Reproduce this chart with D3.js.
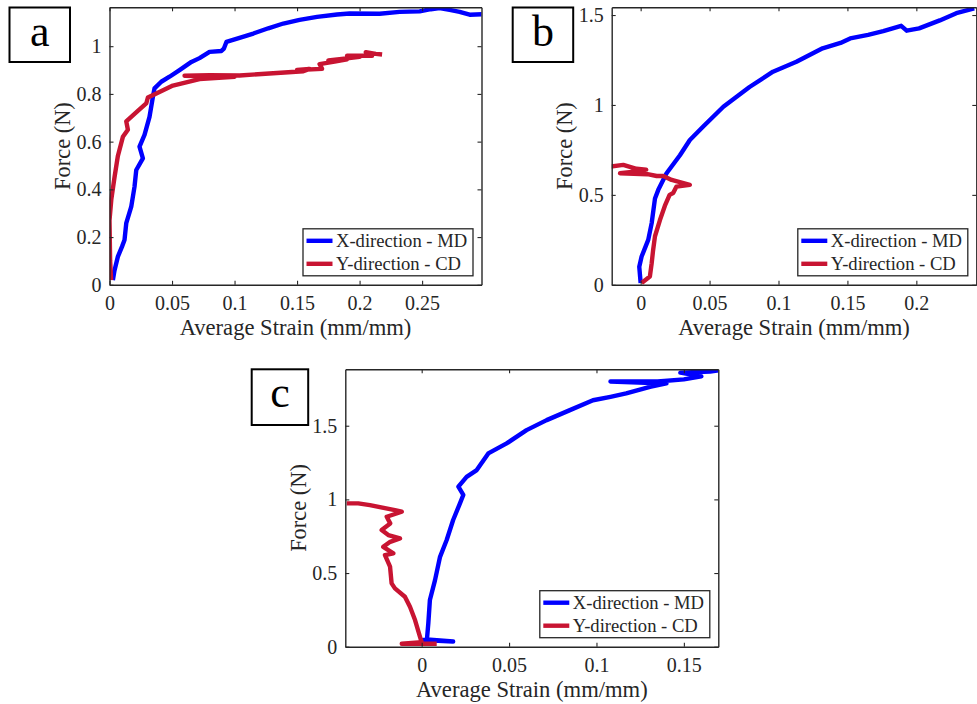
<!DOCTYPE html>
<html>
<head>
<meta charset="utf-8">
<script src="https://cdn.jsdelivr.net/npm/d3@7"></script>
<style>
  html, body { margin: 0; padding: 0; background: #fff; }
  svg { display: block; }
</style>
</head>
<body>
<svg id="chart" width="977" height="704"></svg>
<script>
// ---------------- DATA ----------------
const seriesNames = ["X-direction - MD", "Y-direction - CD"];
const panelLetters = ["a", "b", "c"];

// Panel a: [strain, force]
const aMD = [[0.0027,0.02],[0.0040,0.06],[0.0067,0.118],[0.0100,0.16],[0.012,0.188],[0.0134,0.258],
  [0.0174,0.328],[0.020,0.411],[0.0214,0.481],[0.0267,0.530],[0.024,0.579],[0.028,0.628],[0.032,0.704],
  [0.0347,0.788],[0.036,0.823],[0.0414,0.851],[0.048,0.872],[0.056,0.90],[0.0655,0.934],[0.072,0.950],
  [0.080,0.976],[0.0895,0.980],[0.0915,0.990],[0.0935,1.018],[0.104,1.035],[0.115,1.053],[0.127,1.075],
  [0.139,1.095],[0.152,1.110],[0.166,1.123],[0.182,1.133],[0.192,1.137],[0.216,1.136],[0.232,1.144],
  [0.248,1.146],[0.257,1.155],[0.264,1.160],[0.272,1.152],[0.280,1.144],[0.288,1.132],[0.298,1.134]];
const aCD = [[0.0013,0.02],[0.0005,0.10],[0.0,0.27],[0.0015,0.36],[0.004,0.45],[0.0067,0.54],[0.0107,0.62],
  [0.0147,0.65],[0.0134,0.685],[0.0187,0.71],[0.024,0.735],[0.0294,0.76],[0.0307,0.785],[0.0387,0.805],
  [0.0507,0.835],[0.072,0.862],[0.100,0.872],[0.080,0.874],[0.060,0.876],[0.080,0.878],[0.104,0.877],
  [0.140,0.890],[0.155,0.895],[0.160,0.905],[0.150,0.900],[0.170,0.905],[0.168,0.925],[0.180,0.935],
  [0.190,0.945],[0.175,0.940],[0.200,0.955],[0.190,0.960],[0.210,0.960],[0.205,0.975],[0.213,0.968],
  [0.218,0.965]];

// Panel b
const bMD = [[0.0,0.01],[-0.001,0.10],[0.0007,0.157],[0.0055,0.25],[0.008,0.343],[0.0104,0.48],[0.0128,0.528],
  [0.0188,0.62],[0.0285,0.72],[0.0357,0.805],[0.0454,0.88],[0.060,0.99],[0.079,1.10],[0.096,1.185],
  [0.113,1.24],[0.132,1.315],[0.145,1.345],[0.152,1.37],[0.165,1.39],[0.176,1.41],[0.189,1.44],
  [0.193,1.413],[0.202,1.426],[0.217,1.47],[0.229,1.51],[0.242,1.537]];
const bCD = [[0.0007,0.01],[0.0067,0.046],[0.008,0.12],[0.009,0.19],[0.0104,0.27],[0.014,0.36],[0.0176,0.44],
  [0.021,0.50],[0.0236,0.51],[0.026,0.546],[0.0357,0.556],[0.0225,0.583],[0.0164,0.605],[0.0116,0.605],
  [0.005,0.615],[-0.015,0.62],[-0.003,0.63],[0.004,0.64],[-0.003,0.645],[-0.0126,0.667],[-0.022,0.657]];

// Panel c
const cMD = [[0.0,0.01],[0.001,0.045],[0.018,0.035],[0.003,0.05],[0.0038,0.159],[0.0047,0.317],[0.0076,0.45],
  [0.0105,0.61],[0.0143,0.724],[0.018,0.86],[0.0219,0.973],[0.0238,1.03],[0.021,1.086],[0.0257,1.153],
  [0.0315,1.199],[0.0381,1.312],[0.0486,1.38],[0.060,1.47],[0.0715,1.538],[0.0848,1.606],[0.098,1.673],
  [0.108,1.696],[0.117,1.719],[0.1306,1.764],[0.140,1.787],[0.108,1.800],[0.135,1.800],[0.150,1.815],
  [0.160,1.835],[0.148,1.860],[0.165,1.868],[0.170,1.877]];
const cCD = [[0.0086,0.02],[-0.0114,0.02],[0.0,0.03],[-0.001,0.068],[-0.0038,0.181],[-0.0067,0.271],
  [-0.0096,0.339],[-0.0153,0.396],[-0.0172,0.43],[-0.0181,0.543],[-0.021,0.622],[-0.0162,0.634],
  [-0.022,0.678],[-0.018,0.712],[-0.0124,0.735],[-0.0191,0.758],[-0.0229,0.792],[-0.018,0.837],
  [-0.020,0.882],[-0.0114,0.916],[-0.0153,0.927],[-0.0296,0.961],[-0.0363,0.973],[-0.0429,0.973]];

// Axis limits and ticks
const aXDomain = [0, 0.2975], aYDomain = [0, 1.163];
const bXDomain = [-0.021, 0.2435], bYDomain = [0, 1.543];
const cXDomain = [-0.0437, 0.1697], cYDomain = [0, 1.883];
const aXTicks = [0, 0.05, 0.1, 0.15, 0.2, 0.25], aYTicks = [0, 0.2, 0.4, 0.6, 0.8, 1];
const bXTicks = [0, 0.05, 0.1, 0.15, 0.2], bYTicks = [0, 0.5, 1, 1.5];
const cXTicks = [0, 0.05, 0.1, 0.15], cYTicks = [0, 0.5, 1, 1.5];
const xLabel = "Average Strain (mm/mm)";
const yLabel = "Force (N)";

// ---------------- LAYOUT ----------------
const FONT = "Liberation Serif";
const colors = ["#0000ff", "#c81432"];
const panels = [
  { letter: panelLetters[0], md: aMD, cd: aCD, xd: aXDomain, yd: aYDomain, xt: aXTicks, yt: aYTicks,
    box: { l: 109.5, r: 481.5, t: 7.3, b: 284.8 }, lbl: { x: 9.5, y: 7.5, w: 60.5, h: 54.5 } },
  { letter: panelLetters[1], md: bMD, cd: bCD, xd: bXDomain, yd: bYDomain, xt: bXTicks, yt: bYTicks,
    box: { l: 611.7, r: 976.3, t: 7.3, b: 284.8 }, lbl: { x: 512.7, y: 7.5, w: 60.5, h: 54.5 } },
  { letter: panelLetters[2], md: cMD, cd: cCD, xd: cXDomain, yd: cYDomain, xt: cXTicks, yt: cYTicks,
    box: { l: 345.3, r: 718.3, t: 369.3, b: 646.7 }, lbl: { x: 251.7, y: 369.3, w: 56.5, h: 55.7 } }
];

const svg = d3.select("#chart");
const fmt = d => String(+d.toFixed(4));

panels.forEach((p, i) => {
  const B = p.box;
  const x = d3.scaleLinear().domain(p.xd).range([B.l, B.r]);
  const y = d3.scaleLinear().domain(p.yd).range([B.b, B.t]);
  const g = svg.append("g");

  const cid = "clip" + i;
  svg.append("clipPath").attr("id", cid).append("rect")
    .attr("x", B.l).attr("y", B.t).attr("width", B.r - B.l).attr("height", B.b - B.t);

  const line = d3.line().x(d => x(d[0])).y(d => y(d[1]));
  [p.md, p.cd].forEach((s, k) => {
    g.append("path").datum(s).attr("clip-path", `url(#${cid})`)
      .attr("d", line).attr("fill", "none").attr("stroke", colors[k])
      .attr("stroke-width", 4.4).attr("stroke-linejoin", "round").attr("stroke-linecap", "butt");
  });

  const axStyle = sel => {
    sel.attr("font-family", FONT).attr("font-size", 20);
    sel.select(".domain").attr("stroke", "#262626").attr("stroke-width", 1.4);
    sel.selectAll(".tick line").attr("stroke", "#262626").attr("stroke-width", 1.1);
    sel.selectAll(".tick text").attr("fill", "#262626");
  };
  g.append("g").attr("transform", `translate(0,${B.b})`)
    .call(d3.axisBottom(x).tickValues(p.xt).tickFormat(fmt).tickSizeInner(-4).tickSizeOuter(0).tickPadding(11))
    .call(axStyle);
  g.append("g").attr("transform", `translate(0,${B.t})`)
    .call(d3.axisTop(x).tickValues(p.xt).tickFormat("").tickSizeInner(-4).tickSizeOuter(0))
    .call(axStyle);
  g.append("g").attr("transform", `translate(${B.l},0)`)
    .call(d3.axisLeft(y).tickValues(p.yt).tickFormat(fmt).tickSizeInner(-4).tickSizeOuter(0).tickPadding(8))
    .call(axStyle);
  g.append("g").attr("transform", `translate(${B.r},0)`)
    .call(d3.axisRight(y).tickValues(p.yt).tickFormat("").tickSizeInner(-4).tickSizeOuter(0))
    .call(axStyle);

  g.append("text").attr("x", (B.l + B.r) / 2).attr("y", B.b + 50)
    .attr("text-anchor", "middle").attr("font-family", FONT).attr("font-size", 22.6)
    .attr("fill", "#262626").text(xLabel);
  g.append("text").attr("transform", `translate(${B.l - 39.5},${(B.t + B.b) / 2}) rotate(-90)`)
    .attr("text-anchor", "middle").attr("font-family", FONT).attr("font-size", 22.4)
    .attr("fill", "#262626").text(yLabel);

  const lw = 170, lh = 47;
  const lx = B.r - 8.5 - lw, ly = B.b - 9 - lh;
  const lg = g.append("g").attr("transform", `translate(${lx},${ly})`);
  lg.append("rect").attr("width", lw).attr("height", lh).attr("fill", "#fff")
    .attr("stroke", "#262626").attr("stroke-width", 1.3);
  seriesNames.forEach((nm, k) => {
    const cy = 12 + k * 23;
    lg.append("line").attr("x1", 3.5).attr("x2", 29.5).attr("y1", cy).attr("y2", cy)
      .attr("stroke", colors[k]).attr("stroke-width", 4.4);
    lg.append("text").attr("x", 33).attr("y", cy).attr("dy", "0.35em")
      .attr("font-family", FONT).attr("font-size", 18.6).attr("fill", "#262626").text(nm);
  });

  const L = p.lbl;
  svg.append("rect").attr("x", L.x).attr("y", L.y).attr("width", L.w).attr("height", L.h)
    .attr("fill", "#fff").attr("stroke", "#000").attr("stroke-width", 2);
  svg.append("text").attr("x", L.x + L.w / 2).attr("y", L.y + 38)
    .attr("text-anchor", "middle").attr("font-family", FONT).attr("font-size", 44)
    .attr("fill", "#000").text(p.letter);
});
</script>
</body>
</html>
